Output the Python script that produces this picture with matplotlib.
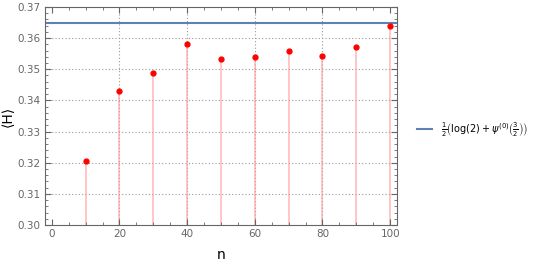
import numpy as np
import matplotlib.pyplot as plt
from matplotlib.ticker import MultipleLocator

# datos
n = [10, 20, 30, 40, 50, 60, 70, 80, 90, 100]
H = [0.3206, 0.3431, 0.3489, 0.3582, 0.3534, 0.3540, 0.3559, 0.3543, 0.3570, 0.3640]
limite = 0.3648  # 1/2 (log 2 + psi(3/2))
xlim = [-2, 102]
ylim = [0.30, 0.37]

gris = '#666666'

fig = plt.figure(figsize=(5.49, 2.67), dpi=100)
ax = fig.add_axes([0.082, 0.157, 0.641, 0.817])

# rejilla punteada
for x in [20, 40, 60, 80]:
    ax.axvline(x, color='#999999', lw=0.8, ls=(0, (1, 2)), zorder=0)
for y in [0.31, 0.32, 0.33, 0.34, 0.35, 0.36]:
    ax.axhline(y, color='#999999', lw=0.8, ls=(0, (1, 2)), zorder=0)

# lineas verticales desde el eje hasta cada punto
ax.vlines(n, ylim[0], H, color='#FF9999', lw=1.3, alpha=0.6, zorder=1)
ax.plot(n, H, 'o', color='red', ms=3.5, zorder=3, clip_on=False)

ax.plot(xlim, [limite, limite], color='#5E81B5', lw=1.5, zorder=2,
        label=r'$\frac{1}{2}\left(\log(2)+\psi^{(0)}\left(\frac{3}{2}\right)\right)$')

ax.set_xlim(xlim)
ax.set_ylim(ylim)
ax.xaxis.set_major_locator(MultipleLocator(20))
ax.xaxis.set_minor_locator(MultipleLocator(5))
ax.yaxis.set_major_locator(MultipleLocator(0.01))
ax.yaxis.set_minor_locator(MultipleLocator(0.002))
ax.yaxis.set_major_formatter(plt.FormatStrFormatter('%.2f'))

ax.tick_params(which='both', direction='in', top=True, right=True, color=gris,
               labelcolor=gris, labelsize=7.5)
ax.tick_params(which='major', length=4, pad=3)
ax.tick_params(which='minor', length=2)
ax.tick_params(labeltop=False, labelright=False)
for s in ax.spines.values():
    s.set_color(gris)

ax.set_xlabel('n', fontsize=10, labelpad=6)
ax.set_ylabel('⟨H⟩', fontsize=10)
ax.yaxis.set_label_coords(-0.085, 0.5)

fig.legend(loc='center left', bbox_to_anchor=(0.752, 0.515), frameon=False,
           fontsize=7, handlelength=1.6, handletextpad=0.9, borderaxespad=0)

plt.savefig('out.png', dpi=100)
